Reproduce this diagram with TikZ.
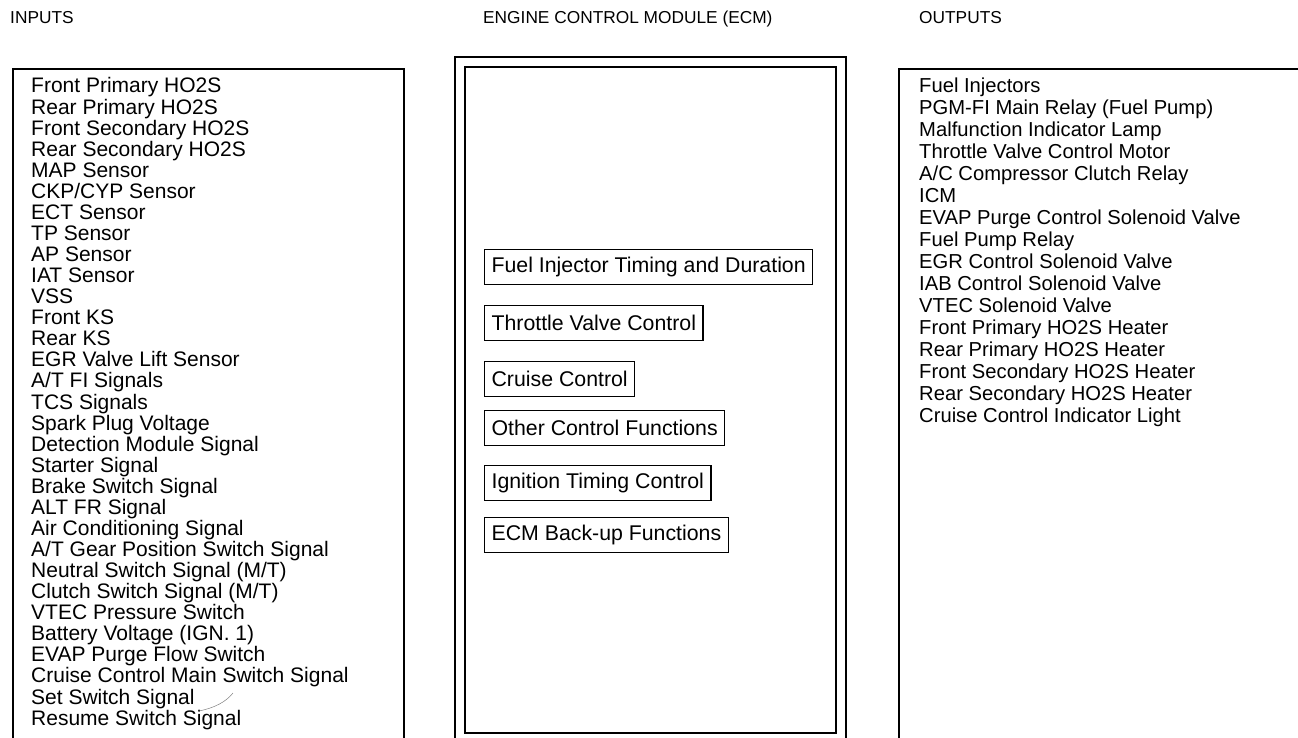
\documentclass[tikz,border=0pt]{standalone}
\usepackage{fontspec}
\setmainfont{Liberation Sans}
\begin{document}
\begin{tikzpicture}[x=1pt,y=-1pt,
  txt/.style={inner sep=0pt, anchor=base west, font=\fontsize{21}{23}\selectfont},
  otxt/.style={inner sep=0pt, anchor=base west, font=\fontsize{20.2}{22}\selectfont},
  ttl/.style={inner sep=0pt, anchor=base west, font=\fontsize{17.3}{20}\selectfont},
  fbox/.style={draw, line width=1.2pt, anchor=west, inner xsep=7pt, minimum height=35pt, font=\fontsize{21.3}{23}\selectfont},
  frame/.style={line width=1.3pt}]
\useasboundingbox (0,0) rectangle (1298,738);
\clip (0,0) rectangle (1298,738);
% titles
\node[ttl] (tin) at (10,24) {INPUTS};
\node[ttl] (tecm) at (483,24) {ENGINE CONTROL MODULE (ECM)};
\node[ttl] (tout) at (919,24) {OUTPUTS};
% frames
\draw[frame] (13,760) |- (404,69) -- (404,760);
\draw[frame] (455,760) |- (846,57) -- (846,760);
\draw[frame] (465,67) rectangle (836,733);
\draw[frame] (899,760) |- (1310,69);
% inputs
\foreach \t [count=\i] in {{Front Primary HO2S},{Rear Primary HO2S},{Front Secondary HO2S},{Rear Secondary HO2S},{MAP Sensor},{CKP/CYP Sensor},{ECT Sensor},{TP Sensor},{AP Sensor},{IAT Sensor},{VSS},{Front KS},{Rear KS},{EGR Valve Lift Sensor},{A/T FI Signals},{TCS Signals},{Spark Plug Voltage},{Detection Module Signal},{Starter Signal},{Brake Switch Signal},{ALT FR Signal},{Air Conditioning Signal},{A/T Gear Position Switch Signal},{Neutral Switch Signal (M/T)},{Clutch Switch Signal (M/T)},{VTEC Pressure Switch},{Battery Voltage (IGN. 1)},{EVAP Purge Flow Switch},{Cruise Control Main Switch Signal},{Set Switch Signal},{Resume Switch Signal}}
  \node[txt] (in\i) at (31,{93+21.07*(\i-1)}) {\t};
% outputs
\foreach \t [count=\i] in {{Fuel Injectors},{PGM-FI Main Relay (Fuel Pump)},{Malfunction Indicator Lamp},{Throttle Valve Control Motor},{A/C Compressor Clutch Relay},{ICM},{EVAP Purge Control Solenoid Valve},{Fuel Pump Relay},{EGR Control Solenoid Valve},{IAB Control Solenoid Valve},{VTEC Solenoid Valve},{Front Primary HO2S Heater},{Rear Primary HO2S Heater},{Front Secondary HO2S Heater},{Rear Secondary HO2S Heater},{Cruise Control Indicator Light}}
  \node[otxt] (out\i) at (919,{92.5+22*(\i-1)}) {\t};
% ECM functions
\node[fbox] (f1) at (484,267) {Fuel Injector Timing and Duration};
\node[fbox] (f2) at (484,323) {Throttle Valve Control};
\node[fbox] (f3) at (484,379) {Cruise Control};
\node[fbox] (f4) at (484,428) {Other Control Functions};
\node[fbox] (f5) at (484,483) {Ignition Timing Control};
\node[fbox] (f6) at (484,535) {ECM Back-up Functions};
% small leader stroke
\coordinate (lA) at (199,711);
\coordinate (lB) at (233,693);
\draw[gray, line width=0.5pt] (lA) .. controls (214,708) and (226,702) .. (lB);
\end{tikzpicture}
\end{document}
